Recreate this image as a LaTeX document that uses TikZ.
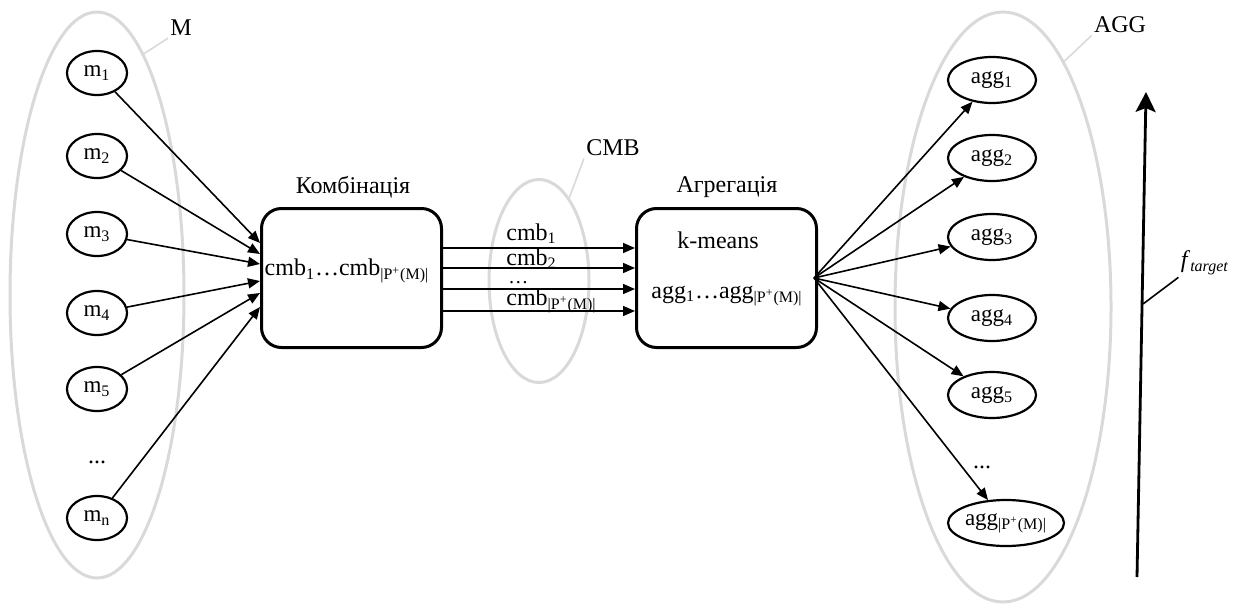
\documentclass[tikz,border=0pt]{standalone}
\usepackage{fontspec}
\setmainfont{Liberation Serif}
\usepackage{tikz}
\usetikzlibrary{arrows.meta,shapes.geometric}
\definecolor{ink}{HTML}{000000}
\definecolor{setgray}{HTML}{D9D9D9}

\begin{document}
\begin{tikzpicture}[
  x=0.5pt,y=-0.5pt,
  elem/.style={draw=ink,ellipse,line width=1.1pt,minimum width=30pt,minimum height=22pt,inner sep=0pt,font=\fontsize{11.5}{13}\selectfont},
  set/.style={draw=setgray,ellipse,line width=1.5pt,inner sep=0pt},
  box/.style={draw=ink,rounded corners=10pt,line width=1.5pt,minimum width=90pt,minimum height=69.5pt,anchor=north west},
  lbl/.style={font=\fontsize{12}{14}\selectfont,inner sep=1pt},
  lead/.style={draw=setgray,line width=0.8pt},
  arr/.style={-{Triangle[length=6pt,width=5pt]},line width=0.8pt,draw=ink}
]
\useasboundingbox (0,0) rectangle (1241,605);
% sets
\node[set,minimum width=87pt,minimum height=283pt] (setM) at (97,295) {};
\node[set,minimum width=50pt,minimum height=101.5pt] (setCMB) at (539,281) {};
\node[set,minimum width=108pt,minimum height=295pt] (setAGG) at (1003,307) {};
\node[lbl] (lblM) at (181,28) {M};
\node[lbl] (lblCMB) at (613,148) {CMB};
\node[lbl] (lblAGG) at (1120,25) {AGG};
\draw[lead] (setM.79) -- (lblM.south west);
\draw[lead] (setCMB.70) -- (lblCMB.south west);
\draw[lead] (setAGG.76) -- (lblAGG.south west);
% inputs
\node[elem] (m1) at (97,73) {m\textsubscript{1}};
\node[elem] (m2) at (97,156) {m\textsubscript{2}};
\node[elem] (m3) at (97,234) {m\textsubscript{3}};
\node[elem] (m4) at (97,313) {m\textsubscript{4}};
\node[elem] (m5) at (97,389) {m\textsubscript{5}};
\node[lbl] (mdots) at (97,462) {...};
\node[elem] (mn) at (97,518) {m\textsubscript{n}};
% blocks
\node[box] (komb) at (260,207) {};
\node[box] (aggr) at (635,207) {};
\node[lbl] at (353,187) {Комбінація};
\node[lbl] at (727,187) {Агрегація};
\node[font=\fontsize{12}{14}\selectfont] (cmball) at (347,271) {cmb\textsubscript{1}\ldots cmb\textsubscript{|P\textsuperscript{+}(M)|}};
\node[font=\fontsize{12}{14}\selectfont] (kmeans) at (718,240) {k-means};
\node[font=\fontsize{12}{14}\selectfont] (aggall) at (727,296) {agg\textsubscript{1}\ldots agg\textsubscript{|P\textsuperscript{+}(M)|}};
\coordinate (in1) at (260,243);
\coordinate (in2) at (260,254);
\coordinate (in3) at (260,264);
\coordinate (in4) at (260,281);
\coordinate (in5) at (260,293);
\coordinate (in6) at (260,307);
\draw[arr] (m1) -- (in1);
\draw[arr] (m2) -- (in2);
\draw[arr] (m3) -- (in3);
\draw[arr] (m4) -- (in4);
\draw[arr] (m5) -- (in5);
\draw[arr] (mn) -- (in6);
% combinations
\foreach \y/\n in {248/1,268/2,289/3,311/4} {
  \coordinate (out\n) at (440,\y);
  \coordinate (to\n) at (635,\y);
  \draw[arr] (out\n) -- (to\n);
}
\node[lbl,anchor=base west,inner sep=0pt] (c1) at (506,240) {cmb\textsubscript{1}};
\node[lbl,anchor=base west,inner sep=0pt] (c2) at (506,265) {cmb\textsubscript{2}};
\node[lbl,anchor=base west,inner sep=0pt,font=\fontsize{10}{12}\selectfont] (c3) at (508,283) {\ldots};
\node[lbl,anchor=base west,inner sep=0pt] (c4) at (506,305) {cmb\textsubscript{|P\textsuperscript{+}(M)|}};
% outputs
\node[elem,minimum width=44pt,minimum height=23pt] (agg1) at (992,80) {agg\textsubscript{1}};
\node[elem,minimum width=44pt,minimum height=23pt] (agg2) at (992,158) {agg\textsubscript{2}};
\node[elem,minimum width=44pt,minimum height=23pt] (agg3) at (992,237) {agg\textsubscript{3}};
\node[elem,minimum width=44pt,minimum height=23pt] (agg4) at (992,318) {agg\textsubscript{4}};
\node[elem,minimum width=44pt,minimum height=23pt] (agg5) at (992,395) {agg\textsubscript{5}};
\node[lbl] (aggdots) at (982,467) {...};
\node[elem,minimum width=58pt,minimum height=23pt] (aggn) at (1006,523) {agg\textsubscript{|P\textsuperscript{+}(M)|}};
\coordinate (src) at (814,278);
\foreach \t in {agg1,agg2,agg3,agg4,agg5,aggn}
  \draw[arr] (src) -- (\t);
% target
\coordinate (fbot) at (1137,577);
\coordinate (ftop) at (1146,92);
\coordinate (fmid) at (1143,304);
\draw[line width=1.4pt,-{Stealth[length=10pt,width=10pt,inset=2pt]}] (fbot) -- (ftop);
\node[lbl] (ftgt) at (1205,263) {\textit{f}\textsubscript{\textit{target}}};
\draw[draw=ink,line width=0.8pt] (fmid) -- (ftgt.south west);
\end{tikzpicture}
\end{document}
